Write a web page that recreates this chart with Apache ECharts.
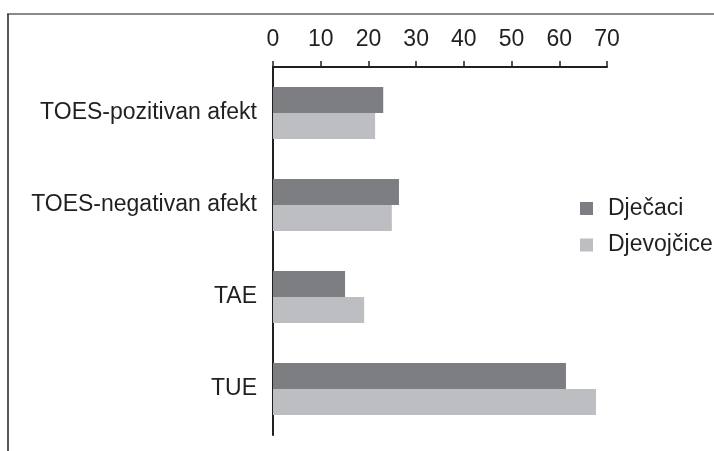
<!DOCTYPE html>
<html>
<head>
<meta charset="utf-8">
<script src="https://cdn.jsdelivr.net/npm/echarts@6/dist/echarts.min.js"></script>
<style>
html,body{margin:0;padding:0;background:#fff;}
#chart{width:714px;height:451px;}
</style>
</head>
<body>
<div id="chart"></div>
<script>
const categories = ["TOES-pozitivan afekt", "TOES-negativan afekt", "TAE", "TUE"];
const seriesNames = ["Dječaci", "Djevojčice"];
const djecaci = [23.1, 26.4, 15.1, 61.4];
const djevojcice = [21.4, 24.9, 19.1, 67.7];
const xTicks = { min: 0, max: 70, interval: 10 };

const FONT = "'Liberation Sans', Arial, sans-serif";
const TXT = "#231f20";
const FS = 23;

const chart = echarts.init(document.getElementById('chart'), null, { renderer: 'canvas' });
chart.setOption({
  animation: false,
  backgroundColor: '#ffffff',
  textStyle: { fontFamily: FONT },
  grid: { left: 273, right: 107, top: 67, bottom: 16, containLabel: false },
  legend: {
    orient: 'vertical',
    left: 575,
    top: 192,
    itemWidth: 13,
    itemHeight: 13,
    itemGap: 13.5,
    icon: 'rect',
    data: seriesNames,
    textStyle: { fontFamily: FONT, fontSize: FS, color: TXT, lineHeight: FS, padding: [0, 0, 0, 10] }
  },
  xAxis: {
    type: 'value',
    position: 'top',
    min: xTicks.min,
    max: xTicks.max,
    interval: xTicks.interval,
    axisLine: { show: true, lineStyle: { color: TXT, width: 2 } },
    axisTick: { show: true, length: 6, lineStyle: { color: TXT, width: 1.5 } },
    splitLine: { show: false },
    axisLabel: { fontFamily: FONT, fontSize: FS, color: TXT, margin: 16 }
  },
  yAxis: {
    type: 'category',
    inverse: true,
    data: categories,
    axisLine: { show: true, onZero: false, lineStyle: { color: TXT, width: 2 } },
    axisTick: { show: false },
    axisLabel: { fontFamily: FONT, fontSize: FS, color: TXT, margin: 16 }
  },
  series: [
    {
      name: seriesNames[0], type: 'bar', data: djecaci,
      barWidth: 26, barGap: '0%',
      itemStyle: { color: '#7d7e82' }
    },
    {
      name: seriesNames[1], type: 'bar', data: djevojcice,
      barWidth: 26, barGap: '0%',
      itemStyle: { color: '#bdbec1' }
    }
  ],
  graphic: [
    { type: 'line', shape: { x1: 7, y1: 14, x2: 714, y2: 14 }, style: { stroke: '#8a8a8a', lineWidth: 2 } },
    { type: 'line', shape: { x1: 8, y1: 14, x2: 8, y2: 451 }, style: { stroke: TXT, lineWidth: 1.5 } }
  ]
});
</script>
</body>
</html>
